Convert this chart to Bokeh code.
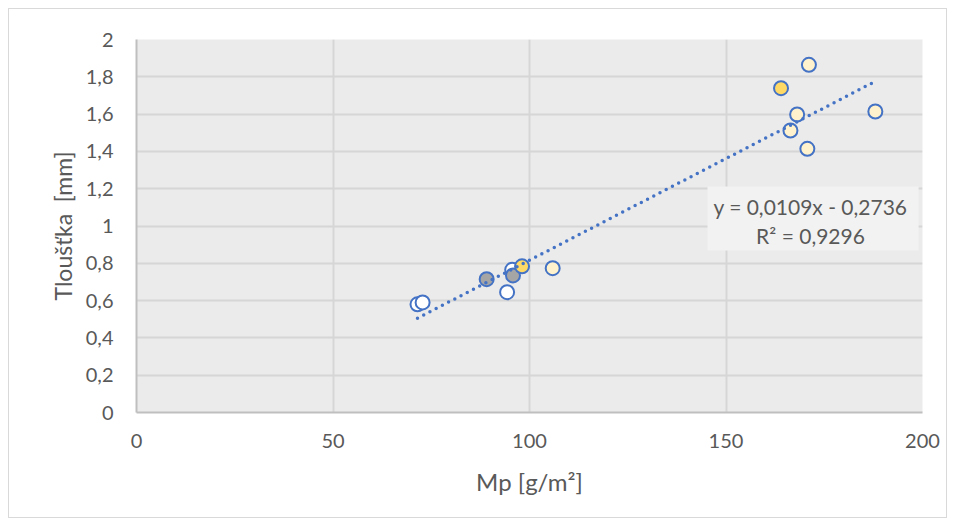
from bokeh.plotting import figure
from bokeh.models import Range1d, FixedTicker, BoxAnnotation, Label
from bokeh.embed import file_html
from bokeh.resources import INLINE

# Data
white_x = [71.5, 72.8, 94.3, 95.6]
white_y = [0.58, 0.59, 0.645, 0.765]
light_x = [105.9, 171.1, 168.1, 166.4, 188.0, 170.7]
light_y = [0.774, 1.864, 1.598, 1.512, 1.614, 1.414]
gray_x = [89.1, 95.8]
gray_y = [0.715, 0.735]
yellow_x = [98.1, 164.0]
yellow_y = [0.784, 1.739]

slope = 0.0109
intercept = -0.2736
trend_x = [71.5, 188.0]
trend_y = [slope * v + intercept for v in trend_x]

x_ticks = [0, 50, 100, 150, 200]
y_ticks = [0, 0.2, 0.4, 0.6, 0.8, 1.0, 1.2, 1.4, 1.6, 1.8, 2.0]
y_tick_labels = ["0", "0,2", "0,4", "0,6", "0,8", "1", "1,2", "1,4", "1,6", "1,8", "2"]

eq_text = "y = 0,0109x - 0,2736"
r2_text = "R² = 0,9296"
x_title = "Mp [g/m²]"
y_title = "Tloušťka\u00a0 [mm]"

FONT = "Lato"
TXT = "#595959"
BLUE = "#4472C4"

p = figure(width=939, height=510, output_backend="svg", toolbar_location=None,
           x_range=Range1d(0, 200), y_range=Range1d(0, 2))
p.min_border_left = 127
p.min_border_right = 26
p.min_border_top = 30
p.min_border_bottom = 107
p.styles = {"border": "1px solid #d9d9d9", "margin-left": "8px", "margin-top": "8px"}

p.background_fill_color = "#ebebeb"
p.border_fill_color = "white"
p.outline_line_color = None

for ax in (p.xaxis, p.yaxis):
    ax.axis_line_color = "#bfbfbf"
    ax.axis_line_width = 2
    ax.major_tick_line_color = None
    ax.minor_tick_line_color = None
    ax.major_label_text_font = FONT
    ax.major_label_text_font_size = "20px"
    ax.major_label_text_color = TXT
    ax.axis_label_text_font = FONT
    ax.axis_label_text_color = TXT
    ax.axis_label_text_font_style = "normal"

p.xaxis.axis_label_text_font_size = "24px"
p.yaxis.axis_label_text_font_size = "23px"

p.xaxis.ticker = FixedTicker(ticks=x_ticks)
p.yaxis.ticker = FixedTicker(ticks=y_ticks)
p.yaxis.major_label_overrides = {t: l for t, l in zip(y_ticks, y_tick_labels)}
p.xaxis.major_label_standoff = 15
p.yaxis.major_label_standoff = 17
p.xaxis.axis_label_standoff = 16
p.yaxis.axis_label_standoff = 6
p.xaxis.axis_label = x_title
p.yaxis.axis_label = y_title

p.xgrid.ticker = FixedTicker(ticks=x_ticks)
p.ygrid.ticker = FixedTicker(ticks=y_ticks)
p.grid.grid_line_color = "#d6d6d6"
p.grid.grid_line_width = 2

ms = 14
p.scatter(white_x, white_y, size=ms, fill_color="white", line_color=BLUE, line_width=2)
p.scatter(light_x, light_y, size=ms, fill_color="#FFF2CC", line_color=BLUE, line_width=2)
p.scatter(gray_x, gray_y, size=ms, fill_color="#A5A5A5", line_color=BLUE, line_width=2)
p.scatter(yellow_x, yellow_y, size=ms, fill_color="#FFD966", line_color=BLUE, line_width=2)

p.line(trend_x, trend_y, line_color=BLUE, line_width=3.5, line_dash="0 7", line_cap="round")

p.add_layout(BoxAnnotation(left=145.3, right=199.0, bottom=0.869, top=1.212,
                           fill_color="#f2f2f2", fill_alpha=1, line_color=None))
p.add_layout(Label(x=171.5, y=1.107, text=eq_text, text_align="center", text_baseline="middle",
                   text_font=FONT, text_font_size="21px", text_color=TXT))
p.add_layout(Label(x=171.5, y=0.95, text=r2_text, text_align="center", text_baseline="middle",
                   text_font=FONT, text_font_size="21px", text_color=TXT))

open("out.html", "w").write(file_html(p, INLINE))
